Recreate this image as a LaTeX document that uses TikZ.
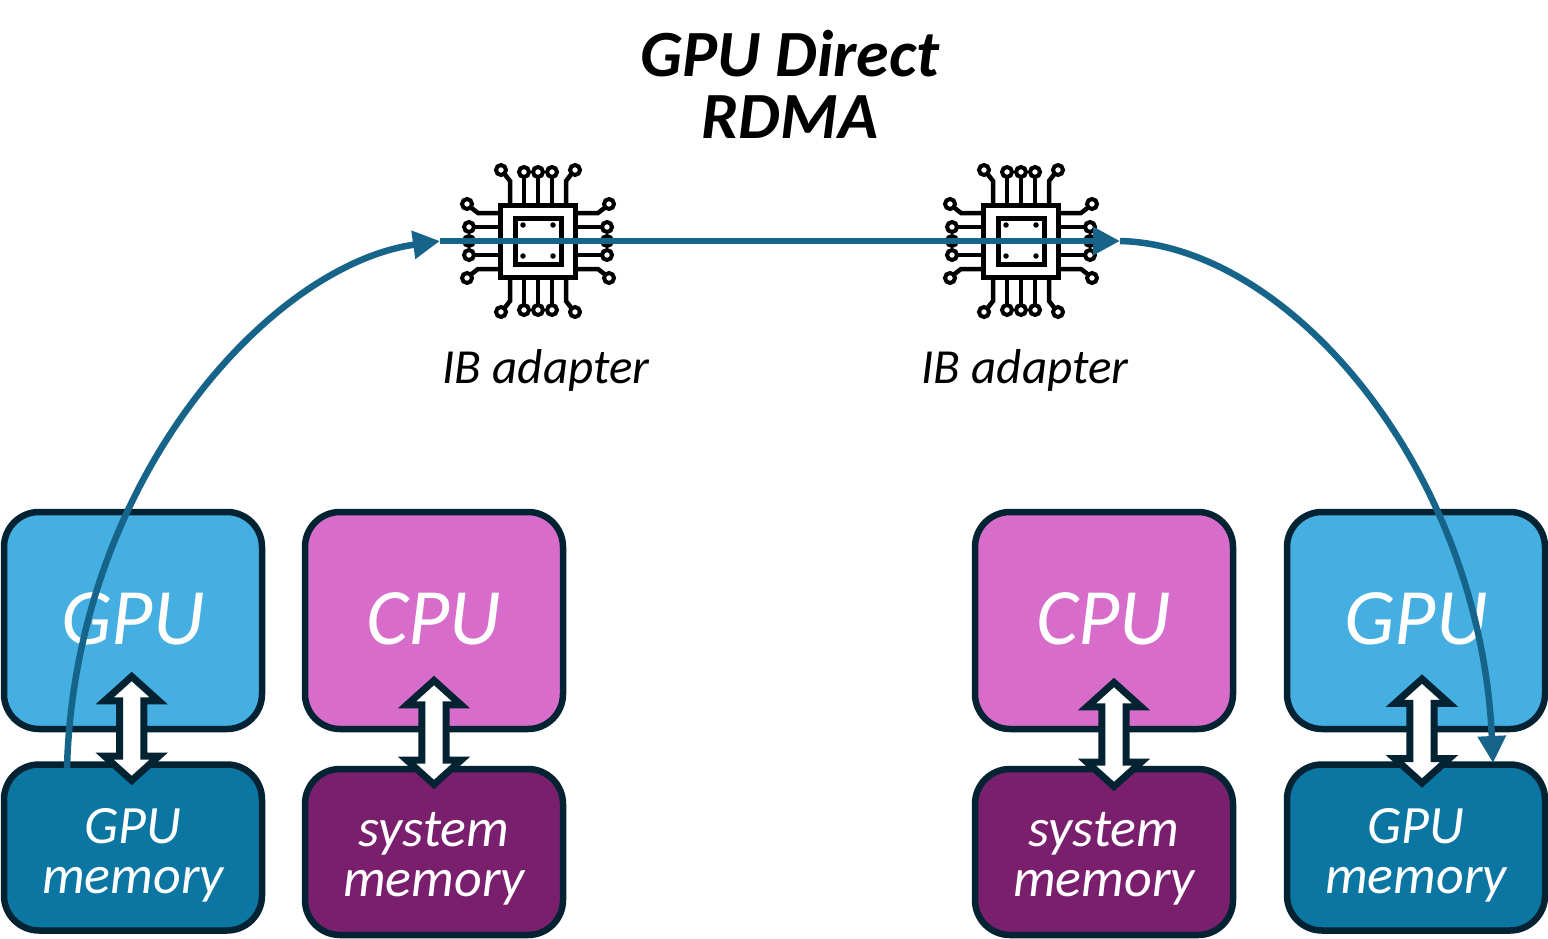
\documentclass[tikz,border=0pt]{standalone}
\usepackage{fontspec}
\setmainfont{Carlito}
\usetikzlibrary{arrows.meta,shapes.arrows}
\definecolor{edgeC}{HTML}{032333}
\definecolor{gpuC}{HTML}{45AFE2}
\definecolor{cpuC}{HTML}{D76CCB}
\definecolor{gmemC}{HTML}{0C76A3}
\definecolor{smemC}{HTML}{7A1F6E}
\definecolor{flowC}{HTML}{17648A}
\newcommand{\bigtxt}{\fontsize{80}{80}\itshape\selectfont}
\newcommand{\smalltxt}{\fontsize{54}{50}\itshape\selectfont}
\newcommand{\boxtext}[2]{\raisebox{#1}[0pt][0pt]{\begin{tabular}{@{}c@{}}#2\end{tabular}}}
\tikzset{
  x=1pt,y=-1pt,
  boxbase/.style={draw=edgeC,line width=6.5pt,rounded corners=35pt,inner sep=0pt,outer sep=0pt,text=white,align=center,minimum width=258pt},
  gpubox/.style={boxbase,fill=gpuC,minimum height=217pt,font=\bigtxt},
  cpubox/.style={boxbase,fill=cpuC,minimum height=217pt,font=\bigtxt},
  gmembox/.style={boxbase,fill=gmemC,minimum height=166pt,font=\smalltxt},
  smembox/.style={boxbase,fill=smemC,minimum height=166pt,font=\smalltxt},
  dbl/.style={draw=edgeC,fill=white,line width=7pt,shape=double arrow,rotate=90,inner xsep=0pt,inner ysep=8pt,outer sep=0pt,
    minimum height=104pt,minimum width=54pt,double arrow head extend=14pt,
    double arrow tip angle=96,double arrow head indent=0pt},
  flow/.style={draw=flowC,line width=6.5pt},
  flowtip/.style={flow,-{Triangle[length=27pt,width=27pt]}},
  chipline/.style={draw=black,line width=4.5pt},
  chipsq/.style={draw=black,fill=white,line width=5pt,inner sep=0pt,outer sep=0pt,minimum width=75pt,minimum height=72pt},
  chipin/.style={draw=black,fill=white,line width=5pt,inner sep=0pt,outer sep=0pt,minimum width=46pt,minimum height=46pt},
  chipdot/.style={fill=black,draw=none,inner sep=0pt,outer sep=0pt,circle,minimum size=5.5pt},
  pin/.style={circle,draw=black,fill=white,line width=4pt,inner sep=0pt,outer sep=0pt,minimum size=10pt},
  chiplabel/.style={font=\fontsize{49}{49}\itshape\selectfont,text=black,anchor=base},
  titletext/.style={font=\fontsize{66}{62}\bfseries\itshape\selectfont,text=black,align=center}
}
\newcommand{\chip}[3]{%
  \begin{scope}[shift={(#1,241)}]
    \foreach \r in {0,90,180,270}{
      \begin{scope}[rotate=\r]
        \draw[chipline] (-28,-38) -- (-28,-60) -- (-35,-69);
        \draw[chipline] (28,-38) -- (28,-60) -- (35,-69);
        \foreach \q in {-14,0,14}{\draw[chipline] (\q,-38) -- (\q,-65);}
        \node[pin] at (-37,-71) {};
        \node[pin] at (37,-71) {};
        \foreach \q in {-14,0,14}{\node[pin] at (\q,-69) {};}
      \end{scope}
    }
    \node[chipsq] (#2) at (0,0) {};
    \node[chipin] (#3) at (0,0) {};
    \foreach \a in {-15,15}\foreach \b in {-16,15}{\node[chipdot] at (\a,\b) {};}
  \end{scope}
}
\begin{document}
\begin{tikzpicture}
\useasboundingbox (0,0) rectangle (1548,939);
\fill[white] (0,0) rectangle (1548,939);

\node[gpubox] (gpuA) at (133,620.5) {\boxtext{-14pt}{GPU}};
\node[cpubox] (cpuA) at (434,620.5) {\boxtext{-14pt}{CPU}};
\node[cpubox] (cpuB) at (1104,620.5) {\boxtext{-14pt}{CPU}};
\node[gpubox] (gpuB) at (1416,620.5) {\boxtext{-14pt}{GPU}};
\node[gmembox] (gmemA) at (133,847.5) {\boxtext{-17.5pt}{GPU\\memory}};
\node[smembox] (smemA) at (434,852) {\boxtext{-15.5pt}{system\\memory}};
\node[smembox] (smemB) at (1104,852) {\boxtext{-15.5pt}{system\\memory}};
\node[gmembox] (gmemB) at (1416,847.5) {\boxtext{-17.5pt}{GPU\\memory}};

\node[dbl] (dblA) at (131.7,728.5) {};
\node[dbl] (dblB) at (434,732.5) {};
\node[dbl] (dblC) at (1114,734.5) {};
\node[dbl] (dblD) at (1422,731) {};

\chip{538}{chipA}{chipAin}
\chip{1021}{chipB}{chipBin}

\node[chiplabel] (ibA) at (546,383) {IB adapter};
\node[chiplabel] (ibB) at (1025,383) {IB adapter};
\node[titletext] (title) at (790,84) {GPU Direct\\RDMA};

\coordinate (startA) at (67,768);
\coordinate (inA) at (440,241);
\coordinate (outB) at (1120,241);
\coordinate (endB) at (1493,763);

\draw[flowtip] (startA) .. controls (75,480) and (270,265) .. (inA);
\draw[flowtip] (inA) -- (outB);
\draw[flowtip] (outB) .. controls (1290,245) and (1480,470) .. (endB);
\end{tikzpicture}
\end{document}
